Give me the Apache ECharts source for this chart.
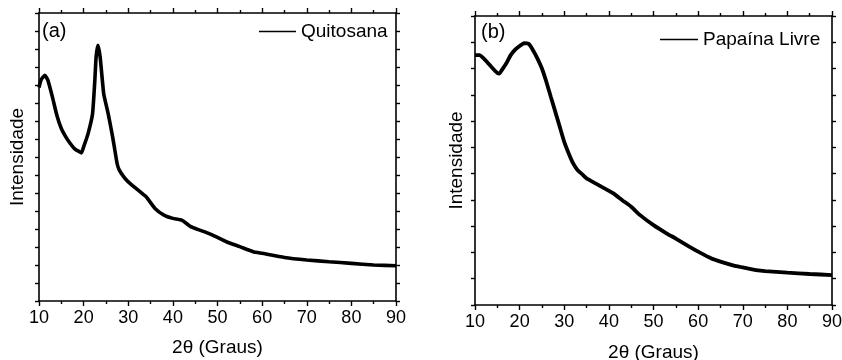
<!DOCTYPE html>
<html lang="pt">
<head>
<meta charset="UTF-8">
<title>DRX</title>
<script src="https://cdn.jsdelivr.net/npm/echarts@6/dist/echarts.min.js"></script>
<style>
  html, body { margin: 0; padding: 0; background: #fff; }
  #chart { width: 842px; height: 360px; }
</style>
</head>
<body>
<div id="chart"></div>
<script>
// (a) Quitosana - 2θ em graus, intensidade em unidades arbitrárias
var angA = [10, 10.5, 11.3, 12, 13, 14, 15, 16, 17, 18, 19, 19.5, 20, 21, 22, 22.5, 22.8, 23.2, 23.7, 24.5, 25.5, 26.5, 27.5, 28, 29, 30, 32, 34, 36, 38, 40, 42, 44, 46, 48, 50, 52, 55, 58, 60, 65, 70, 75, 80, 85, 90];
var intA = [11.86, 12.3, 12.54, 12.26, 11.34, 10.32, 9.58, 9.12, 8.75, 8.45, 8.3, 8.23, 8.56, 9.3, 10.4, 12.2, 13.56, 14.21, 13.56, 11.52, 10.41, 9.12, 7.64, 7.27, 6.9, 6.62, 6.2, 5.79, 5.14, 4.77, 4.59, 4.49, 4.13, 3.94, 3.76, 3.53, 3.29, 3.02, 2.74, 2.65, 2.42, 2.28, 2.18, 2.09, 2.0, 1.96];

// (b) Papaína Livre
var angB = [10, 11, 12, 13, 14, 15, 15.5, 16, 17, 18, 19, 20, 21, 22, 23, 24, 25, 26, 27, 28, 29, 30, 31, 32, 33, 34, 35, 37, 39, 41, 43, 45, 47, 50, 53, 55, 58, 60, 63, 65, 68, 70, 73, 75, 80, 85, 90];
var intB = [9.51, 9.51, 9.38, 9.19, 9.0, 8.83, 8.81, 8.94, 9.19, 9.51, 9.72, 9.86, 9.97, 9.94, 9.7, 9.38, 9.0, 8.49, 7.92, 7.35, 6.78, 6.21, 5.77, 5.39, 5.13, 4.98, 4.82, 4.63, 4.44, 4.25, 3.99, 3.74, 3.42, 3.04, 2.72, 2.53, 2.22, 2.03, 1.77, 1.65, 1.5, 1.43, 1.33, 1.29, 1.23, 1.18, 1.14];

var xTicks = [10, 20, 30, 40, 50, 60, 70, 80, 90];

function pairs(xs, ys) {
  var out = [];
  for (var i = 0; i < xs.length; i++) out.push([xs[i], ys[i]]);
  return out;
}

var font = 'Liberation Sans, Arial, sans-serif';
var axLine = { show: true, onZero: false, lineStyle: { color: '#000', width: 1.6 } };
var tick = { show: true, inside: false, length: 5, lineStyle: { color: '#000', width: 1.4 } };
var minor = { show: true, splitNumber: 2, length: 3, lineStyle: { color: '#000', width: 1.4 } };

function xBottom(grid, gap) {
  return {
    gridIndex: grid, type: 'value', min: xTicks[0], max: xTicks[xTicks.length - 1], interval: 10,
    position: 'bottom', axisLine: axLine, axisTick: tick, minorTick: minor,
    splitLine: { show: false },
    axisLabel: { color: '#000', fontFamily: font, fontSize: 18, margin: 8 },
    name: '2θ (Graus)', nameLocation: 'middle', nameGap: gap,
    nameTextStyle: { color: '#000', fontFamily: font, fontSize: 19 }
  };
}
function xTop(grid) {
  return {
    gridIndex: grid, type: 'value', min: 10, max: 90, interval: 10, position: 'top',
    axisLine: axLine, axisTick: tick, minorTick: minor,
    splitLine: { show: false }, axisLabel: { show: false }
  };
}
function yLeft(grid, max, gap) {
  return {
    gridIndex: grid, type: 'value', min: 0, max: max, interval: 1, position: 'left',
    axisLine: axLine, axisTick: { show: true, inside: false, length: 4, lineStyle: { color: '#000', width: 1.4 } },
    splitLine: { show: false }, axisLabel: { show: false },
    name: 'Intensidade', nameLocation: 'middle', nameGap: gap,
    nameTextStyle: { color: '#000', fontFamily: font, fontSize: 19 }
  };
}
function yRight(grid, max) {
  return {
    gridIndex: grid, type: 'value', min: 0, max: max, interval: 1, position: 'right',
    axisLine: axLine, axisTick: { show: true, inside: false, length: 4, lineStyle: { color: '#000', width: 1.4 } },
    splitLine: { show: false }, axisLabel: { show: false }
  };
}

var chart = echarts.init(document.getElementById('chart'));
chart.setOption({
  animation: false,
  backgroundColor: '#fff',
  grid: [
    { left: 39, top: 13, width: 357, height: 288, containLabel: false, outerBoundsMode: 'none' },
    { left: 475, top: 16, width: 357, height: 289, containLabel: false, outerBoundsMode: 'none' }
  ],
  xAxis: [xBottom(0, 37), xTop(0), xBottom(1, 38), xTop(1)],
  yAxis: [yLeft(0, 16, 12), yRight(0, 16), yLeft(1, 11, 9), yRight(1, 11)],
  legend: [
    { data: ['Quitosana'], left: 259, top: 22, padding: 0, icon: 'rect', itemWidth: 37, itemHeight: 1.5, itemGap: 5,
      textStyle: { color: '#000', fontFamily: font, fontSize: 19 } },
    { data: ['Papaína Livre'], left: 660, top: 30, padding: 0, icon: 'rect', itemWidth: 38, itemHeight: 1.5, itemGap: 4,
      textStyle: { color: '#000', fontFamily: font, fontSize: 19 } }
  ],
  graphic: [
    { type: 'text', left: 42, top: 21, style: { text: '(a)', fill: '#000', font: '20px ' + font } },
    { type: 'text', left: 481, top: 22, style: { text: '(b)', fill: '#000', font: '20px ' + font } }
  ],
  series: [
    { name: 'Quitosana', type: 'line', xAxisIndex: 0, yAxisIndex: 0, data: pairs(angA, intA),
      showSymbol: false, smooth: 0.15, lineStyle: { color: '#000', width: 3.6 }, itemStyle: { color: '#000' } },
    { name: 'Papaína Livre', type: 'line', xAxisIndex: 2, yAxisIndex: 2, data: pairs(angB, intB),
      showSymbol: false, smooth: 0.15, lineStyle: { color: '#000', width: 3.8 }, itemStyle: { color: '#000' } }
  ]
});
</script>
</body>
</html>
